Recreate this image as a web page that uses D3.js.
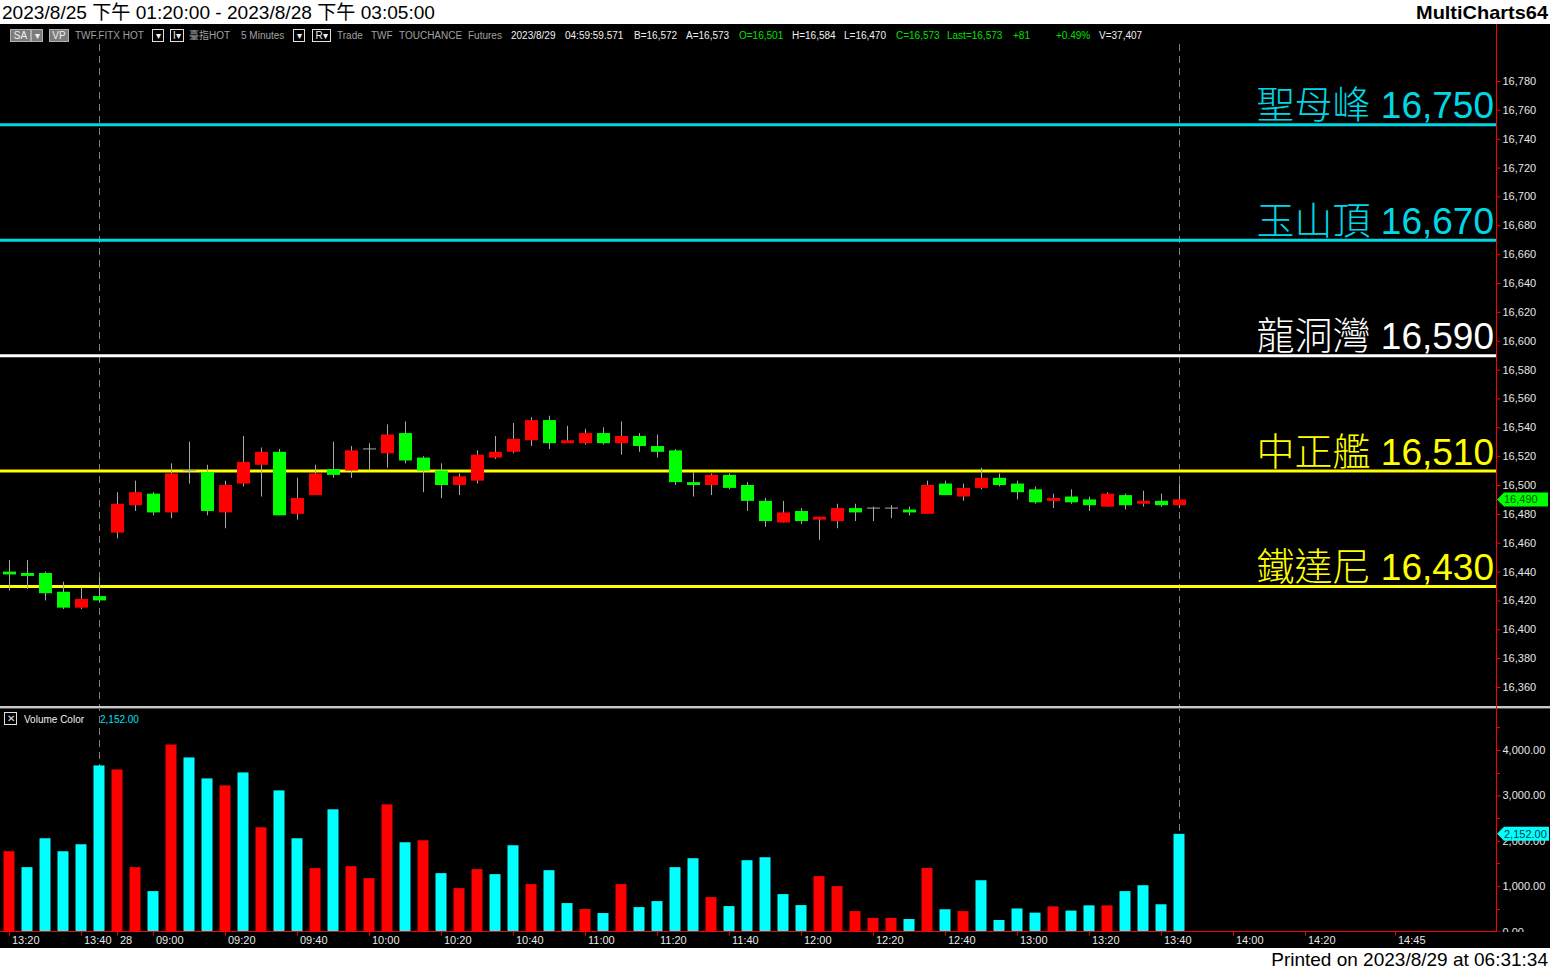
<!DOCTYPE html>
<html><head><meta charset="utf-8">
<script src="https://cdn.jsdelivr.net/npm/d3@7"></script>
<style>
html,body{margin:0;padding:0;background:#fff;overflow:hidden;}
svg{display:block;}
text{font-family:"Liberation Sans",Arial,"Noto Sans CJK TC",sans-serif;}
</style></head><body>
<svg id="c" width="1550" height="970"></svg>
<script>
// ---------------- DATA ----------------
const slots = ["25 13:20","25 13:25","25 13:30","25 13:35","25 13:40","25 13:45",
"28 08:50","28 08:55","28 09:00","28 09:05","28 09:10","28 09:15","28 09:20","28 09:25","28 09:30","28 09:35",
"28 09:40","28 09:45","28 09:50","28 09:55","28 10:00","28 10:05","28 10:10","28 10:15","28 10:20","28 10:25",
"28 10:30","28 10:35","28 10:40","28 10:45","28 10:50","28 10:55","28 11:00","28 11:05","28 11:10","28 11:15",
"28 11:20","28 11:25","28 11:30","28 11:35","28 11:40","28 11:45","28 11:50","28 11:55","28 12:00","28 12:05",
"28 12:10","28 12:15","28 12:20","28 12:25","28 12:30","28 12:35","28 12:40","28 12:45","28 12:50","28 12:55",
"28 13:00","28 13:05","28 13:10","28 13:15","28 13:20","28 13:25","28 13:30","28 13:35","28 13:40","28 13:45",
"28 13:50","28 13:55","28 14:00","28 14:05","28 14:10","28 14:15","28 14:20","28 14:25","28 14:30","28 14:35",
"28 14:40","28 14:45"];

const opens = [16440,16439,16439,16426,16415,16423,16467,16486,16494,16481,
16510,16509,16481,16501,16514,16523,16480,16493,16511,16510,
16525,16522,16536,16519,16510,16500,16503,16519,16523,16531,
16545,16529,16529,16536,16529,16534,16527,16524,16502,16500,
16507,16500,16489,16474,16482,16476,16475,16484,16484,16484,
16483,16480,16501,16492,16498,16505,16501,16497,16489,16492,
16490,16485,16493,16487,16489,16486];
const highs = [16448,16448,16440,16433,16429,16436,16495,16503,16495,16515,
16530,16514,16503,16534,16526,16525,16505,16514,16530,16527,
16529,16542,16544,16520,16515,16508,16524,16534,16543,16547,
16548,16541,16539,16540,16544,16536,16535,16525,16509,16508,
16508,16502,16491,16489,16484,16478,16487,16487,16485,16486,
16485,16503,16503,16501,16512,16508,16503,16499,16494,16497,
16492,16495,16494,16496,16494,16501];
const lows = [16427,16428,16420,16414,16414,16419,16463,16482,16479,16477,
16501,16479,16470,16499,16492,16479,16476,16493,16505,16505,
16510,16512,16515,16495,16491,16493,16501,16518,16522,16527,
16525,16529,16528,16528,16521,16523,16519,16500,16492,16493,
16497,16482,16471,16474,16473,16462,16470,16475,16475,16477,
16479,16480,16493,16489,16497,16499,16490,16487,16484,16487,
16482,16485,16483,16485,16485,16484];
const closes = [16438,16437,16425,16415,16421,16420,16487,16495,16481,16508,
16510,16482,16500,16516,16523,16479,16491,16508,16507,16524,
16525,16535,16517,16510,16500,16506,16521,16523,16532,16545,
16529,16531,16536,16529,16534,16527,16523,16502,16500,16507,
16498,16489,16475,16481,16475,16478,16484,16481,16484,16484,
16481,16500,16493,16498,16505,16500,16495,16488,16491,16488,
16486,16494,16486,16489,16486,16490];
const volumes = [1769,1418,2055,1769,1923,3660,3572,1418,890,4121,
3836,3374,3220,3506,2297,3110,2055,1396,2693,1440,
1176,2802,1967,2011,1286,956,1374,1264,1901,1044,
1352,626,495,407,1044,538,670,1418,1615,758,
560,1571,1637,824,582,1220,1000,450,300,300,
275,1400,490,450,1130,253,508,415,554,461,
576,576,890,1020,600,2152];
// r = up-volume bar, c = down-volume bar
const volumeDir = ("rcccccrrcr"+"ccrcrccrcr"+"rrcrcrrccr"+"ccrcrccccr"+"cccccrrrrr"+"crcrccccrc"+"crcccc").split("");

const levelNames = ["聖母峰","玉山頂","龍洞灣","中正艦","鐵達尼"];
const levelValues = [16750,16670,16590,16510,16430];
const levelKinds = ["cyan","cyan","white","yellow","yellow"];

const xTickKeys = ["25 13:20","25 13:40","28 08:50","28 09:00","28 09:20","28 09:40","28 10:00","28 10:20","28 10:40",
"28 11:00","28 11:20","28 11:40","28 12:00","28 12:20","28 12:40","28 13:00","28 13:20","28 13:40","28 14:00","28 14:20","28 14:45"];
const xTickLabels = ["13:20","13:40","28","09:00","09:20","09:40","10:00","10:20","10:40",
"11:00","11:20","11:40","12:00","12:20","12:40","13:00","13:20","13:40","14:00","14:20","14:45"];
const sessionEnds = ["25 13:45","28 13:45"];
const priceTicks = [16360,16380,16400,16420,16440,16460,16480,16500,16520,16540,16560,16580,16600,16620,16640,16660,16680,16700,16720,16740,16760,16780];
const volTicks = [0,1000,2000,3000,4000];
const lastPrice = 16490, lastVolume = 2152;

const titleText = "2023/8/25 下午 01:20:00 - 2023/8/28 下午 03:05:00";
const infoItems = [
 ["TWF.FITX HOT","g",75],["臺指HOT","g",189],["5 Minutes","g",241],["Trade","g",337],["TWF","g",371],
 ["TOUCHANCE","g",399],["Futures","g",468],["2023/8/29","w",511],["04:59:59.571","w",565],["B=16,572","w",634],
 ["A=16,573","w",686],["O=16,501","G",739],["H=16,584","w",792],["L=16,470","w",844],["C=16,573","G",896],
 ["Last=16,573","G",947],["+81","G",1013],["+0.49%","G",1056],["V=37,407","w",1099]];

// ---------------- STYLE / LAYOUT ----------------
const W = 1550, H = 970;
const plotL = 0, plotR = 1496;
const paneTop = 24, priceBottom = 706, volTop = 709, volBottom = 931.5, chartBottom = 948;
const colorMap = {cyan:"#00d8e6", white:"#ffffff", yellow:"#ffff00"};
const UP = "#ff0000", DOWN = "#00ff00", WICK = "#a8a8a8";
const VUP = "#ff0000", VDN = "#00ffff";
const AXIS = "#ff0000", TXT = "#e6e6e6";

const svg = d3.select("#c");
svg.append("rect").attr("x",0).attr("y",0).attr("width",W).attr("height",H).attr("fill","#fff");
svg.append("rect").attr("x",0).attr("y",paneTop).attr("width",W).attr("height",chartBottom-paneTop).attr("fill","#000");

// header
svg.append("text").attr("x",2).attr("y",19).attr("font-size",19).attr("fill","#000")
  .attr("textLength",433).attr("lengthAdjust","spacingAndGlyphs").text(titleText);
svg.append("text").attr("x",1548).attr("y",19).attr("font-size",19).attr("font-weight","bold")
  .attr("text-anchor","end").attr("fill","#000").attr("textLength",132).attr("lengthAdjust","spacingAndGlyphs").text("MultiCharts64");
svg.append("text").attr("x",1548).attr("y",966).attr("font-size",19).attr("text-anchor","end").attr("fill","#000")
  .text("Printed on 2023/8/29 at 06:31:34");

// scales
const x = d3.scaleBand().domain(slots).range([0.3, 0.3 + 18*slots.length]).padding(0);
const cx = k => x(k) + x.bandwidth()/2;
const y = d3.scaleLinear().domain([16360,16780]).range([687,81]);
const yv = d3.scaleLinear().domain([0,4000]).range([volBottom, 750]);

const bars = opens.map((o,i)=>({k:slots[i],o,h:highs[i],l:lows[i],c:closes[i],v:volumes[i],vd:volumeDir[i]}));

// clip paths
const defs = svg.append("defs");
defs.append("clipPath").attr("id","cp").append("rect").attr("x",0).attr("y",paneTop).attr("width",plotR).attr("height",priceBottom-paneTop);
defs.append("clipPath").attr("id","cv").append("rect").attr("x",0).attr("y",volTop).attr("width",W).attr("height",volBottom-volTop+0.5);

// session break dashed lines
svg.append("g").selectAll("line").data(sessionEnds).join("line")
  .attr("x1",d=>Math.round(cx(d))+0.5).attr("x2",d=>Math.round(cx(d))+0.5)
  .attr("y1",44).attr("y2",volBottom)
  .attr("stroke","#7a7a7a").attr("stroke-width",1).attr("stroke-dasharray","7,5");

// info bar
const info = svg.append("g").attr("font-size",10);
function box(x0,w,fill,stroke,label){
  info.append("rect").attr("x",x0+0.5).attr("y",29.5).attr("width",w).attr("height",12)
    .attr("fill",fill).attr("stroke",stroke);
  info.append("text").attr("x",x0+w/2+0.5).attr("y",39).attr("text-anchor","middle").attr("fill","#f0f0f0").text(label);
}
box(10,20,"#7c7c7c","#b0b0b0","SA"); box(31,11,"#7c7c7c","#b0b0b0","▾");
box(49,19,"#7c7c7c","#b0b0b0","VP");
box(152,11,"#000","#e0e0e0","▾"); box(170,13,"#000","#e0e0e0","I▾");
box(293,11,"#000","#e0e0e0","▾"); box(312,18,"#000","#e0e0e0","R▾");
const infoColor = {g:"#a0a0a0", w:"#f0f0f0", G:"#00e000"};
info.selectAll("text.it").data(infoItems).join("text").attr("class","it")
  .attr("x",d=>d[2]).attr("y",39).attr("fill",d=>infoColor[d[1]]).text(d=>d[0]);

// level lines
const lv = svg.append("g").attr("clip-path","url(#cp)");
lv.selectAll("line").data(levelValues).join("line")
  .attr("x1",0).attr("x2",plotR).attr("y1",d=>y(d)+0.5).attr("y2",d=>y(d)+0.5)
  .attr("stroke",(d,i)=>colorMap[levelKinds[i]]).attr("stroke-width",3);

// candles
const cg = svg.append("g").attr("clip-path","url(#cp)");
cg.selectAll("line.w").data(bars).join("line").attr("class","w")
  .attr("x1",d=>Math.round(cx(d.k))+0.5).attr("x2",d=>Math.round(cx(d.k))+0.5)
  .attr("y1",d=>y(d.h)).attr("y2",d=>y(d.l)).attr("stroke",WICK).attr("stroke-width",1);
cg.selectAll("rect.b").data(bars).join("rect").attr("class","b")
  .attr("x",d=>Math.round(cx(d.k))-6).attr("width",13)
  .attr("y",d=>d.c===d.o ? y(d.c)-0.5 : y(Math.max(d.o,d.c)))
  .attr("height",d=>d.c===d.o ? 1 : Math.max(2.5, y(Math.min(d.o,d.c))-y(Math.max(d.o,d.c))))
  .attr("fill",d=>d.c>d.o?UP:(d.c<d.o?DOWN:WICK));

// level labels
const lt = svg.append("g");
levelValues.forEach((v,i)=>{
  const t = lt.append("text").attr("x",1494).attr("y",y(v)-6).attr("text-anchor","end")
    .attr("font-size",37).attr("fill",colorMap[levelKinds[i]]);
  t.append("tspan").attr("font-family","'Noto Sans CJK TC'").attr("font-weight",300).attr("font-size",38).text(levelNames[i]);
  t.append("tspan").text(" " + d3.format(",")(v));
});

// pane separator
svg.append("rect").attr("x",0).attr("y",706).attr("width",W).attr("height",2).attr("fill","#c8c8c8");
svg.append("rect").attr("x",0).attr("y",708).attr("width",W).attr("height",1).attr("fill","#555");

// volume bars
const vg = svg.append("g").attr("clip-path","url(#cv)");
vg.selectAll("rect").data(bars).join("rect")
  .attr("x",d=>Math.round(cx(d.k))-5.5).attr("width",11)
  .attr("y",d=>yv(d.v)).attr("height",d=>volBottom-yv(d.v))
  .attr("fill",d=>d.vd==="r"?VUP:VDN);

// volume title
svg.append("rect").attr("x",4.5).attr("y",712.5).attr("width",12).attr("height",12).attr("fill","none").attr("stroke","#e0e0e0");
svg.append("text").attr("x",10.5).attr("y",722).attr("text-anchor","middle").attr("font-size",10).attr("fill","#e0e0e0").text("✕");
svg.append("text").attr("x",24).attr("y",723).attr("font-size",10).attr("fill","#f0f0f0").text("Volume Color");
svg.append("text").attr("x",100).attr("y",723).attr("font-size",10).attr("fill","#00e0f0").text(d3.format(",.2f")(lastVolume));

// axes lines
svg.append("line").attr("x1",plotR+0.5).attr("x2",plotR+0.5).attr("y1",paneTop).attr("y2",volBottom).attr("stroke",AXIS);
svg.append("line").attr("x1",0).attr("x2",plotR+1).attr("y1",volBottom).attr("y2",volBottom).attr("stroke",AXIS);

// price axis
const ya = d3.axisRight(y).tickValues(priceTicks).tickFormat(d3.format(",")).tickSize(4).tickPadding(2);
const yag = svg.append("g").attr("transform",`translate(${plotR+0.5},0)`).call(ya);
const minorP = d3.range(16350,16810,10);
svg.append("g").selectAll("line").data(minorP).join("line")
  .attr("x1",plotR).attr("x2",plotR+4).attr("y1",d=>Math.round(y(d))+0.5).attr("y2",d=>Math.round(y(d))+0.5)
  .attr("stroke",AXIS).attr("clip-path","url(#cp)");

// volume axis
const va = d3.axisRight(yv).tickValues(volTicks).tickFormat(d3.format(",.2f")).tickSize(4).tickPadding(2);
const vag = svg.append("g").attr("transform",`translate(${plotR+0.5},0)`).attr("clip-path","url(#cv)").call(va);
svg.append("g").selectAll("line").data([500,1500,2500,3500,4500]).join("line")
  .attr("x1",plotR).attr("x2",plotR+4).attr("y1",d=>Math.round(yv(d))+0.5).attr("y2",d=>Math.round(yv(d))+0.5)
  .attr("stroke",AXIS).attr("clip-path","url(#cv)");

[yag,vag].forEach(g=>{
  g.select(".domain").remove();
  g.selectAll(".tick line").attr("stroke",AXIS);
  g.selectAll(".tick text").attr("fill",TXT).attr("font-size",11).attr("font-family","'Liberation Sans',Arial");
});

// x axis
const xa = svg.append("g");
xa.selectAll("line").data(xTickKeys).join("line")
  .attr("x1",d=>Math.round(cx(d))+0.5).attr("x2",d=>Math.round(cx(d))+0.5)
  .attr("y1",volBottom).attr("y2",volBottom+4).attr("stroke",AXIS);
xa.selectAll("text").data(xTickKeys).join("text")
  .attr("x",d=>Math.round(cx(d))+3).attr("y",944).attr("font-size",11).attr("fill",TXT)
  .text((d,i)=>xTickLabels[i]);

// last price marker
function marker(yy, label, fill, tcolor, w){
  const g = svg.append("g");
  g.append("path").attr("d",`M${plotR+1},${yy} L${plotR+8},${yy-7} L${plotR+1+w},${yy-7} L${plotR+1+w},${yy+7} L${plotR+8},${yy+7} Z`)
   .attr("fill",fill);
  g.append("text").attr("x",plotR+8).attr("y",yy+4).attr("font-size",11).attr("fill",tcolor).text(label);
}
marker(y(lastPrice), d3.format(",")(lastPrice), "#00ff00", "#005000", 51);
marker(yv(lastVolume), d3.format(",.2f")(lastVolume), "#00ffff", "#003a40", 52);
</script>
</body></html>
